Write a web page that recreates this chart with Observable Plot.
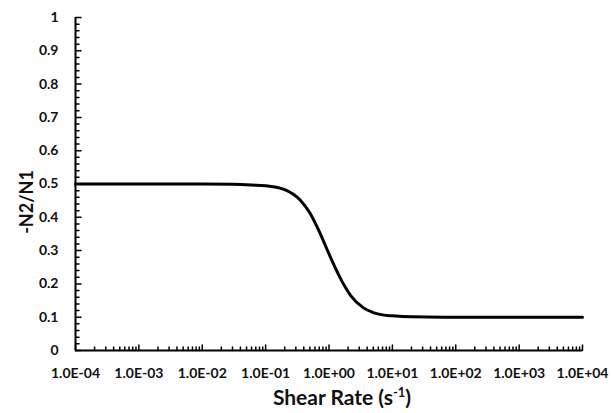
<!DOCTYPE html>
<html><head><meta charset="utf-8">
<script src="https://cdn.jsdelivr.net/npm/d3@7"></script>
<script src="https://cdn.jsdelivr.net/npm/@observablehq/plot@0.6"></script>
<style>body{margin:0;background:#fff} svg{display:block}</style>
</head><body><div id="chart"></div>
<script>
// Data
const shearRate = [1e-4, 1e-3, 1e-2, 0.03, 0.06, 0.1, 0.2, 0.35, 0.5, 0.7, 1.0, 1.5, 2.2, 3.5, 5, 7, 10, 20, 100, 1e3, 1e4];
const ratio     = [0.5, 0.5, 0.5, 0.499, 0.497, 0.495, 0.483, 0.452, 0.413, 0.358, 0.29, 0.218, 0.165, 0.128, 0.114, 0.107, 0.104, 0.101, 0.1, 0.1, 0.1];

const xTickValues = [1e-4, 1e-3, 1e-2, 1e-1, 1e0, 1e1, 1e2, 1e3, 1e4];
const xTickLabels = ["1.0E-04", "1.0E-03", "1.0E-02", "1.0E-01", "1.0E+00", "1.0E+01", "1.0E+02", "1.0E+03", "1.0E+04"];
const yTickValues = [0, 0.1, 0.2, 0.3, 0.4, 0.5, 0.6, 0.7, 0.8, 0.9, 1];
const yTickLabels = ["0", "0.1", "0.2", "0.3", "0.4", "0.5", "0.6", "0.7", "0.8", "0.9", "1"];
const xTitle = "Shear Rate (s";
const xTitleSup = "-1";
const xTitleEnd = ")";
const yTitle = "-N2/N1";

const data = shearRate.map((x, i) => ({x, y: ratio[i]}));
const minorX = [];
for (let d = -4; d < 4; d++) for (let k = 2; k <= 9; k++) minorX.push(k * Math.pow(10, d));
const minorY = d3.range(0, 51).map(i => i / 50).filter(v => Math.abs(v * 10 - Math.round(v * 10)) > 1e-6);

const tickShape = {draw(ctx, l) { ctx.moveTo(0, 0); ctx.lineTo(0, -l); }};
const font = "Lato, 'Open Sans', sans-serif";

const chart = Plot.plot({
  width: 611, height: 413,
  marginLeft: 75, marginRight: 29, marginTop: 17, marginBottom: 63,
  style: {fontFamily: font, background: "#fff", color: "#000"},
  x: {type: "log", domain: [1e-4, 1e4]},
  y: {domain: [0, 1]},
  marks: [
    Plot.axisX({ticks: xTickValues, tickSize: 0, tickPadding: 18, label: null,
      tickFormat: d => xTickLabels[xTickValues.indexOf(d)], fontSize: 14, fontWeight: "bold", fill: "#111"}),
    Plot.axisY({ticks: yTickValues, tickSize: 0, tickPadding: 17, label: null,
      tickFormat: d => yTickLabels[yTickValues.findIndex(v => Math.abs(v - d) < 1e-9)], fontSize: 14, fontWeight: "bold", fill: "#111"}),
    Plot.vector(minorX, {x: d => d, y: 0, rotate: 0, length: 3.5, anchor: "start", shape: tickShape, stroke: "#000", strokeWidth: 1.5}),
    Plot.vector(xTickValues, {x: d => d, y: 0, rotate: 0, length: 5.5, anchor: "start", shape: tickShape, stroke: "#000", strokeWidth: 1.5}),
    Plot.vector(minorY, {x: 1e-4, y: d => d, rotate: 90, length: 3.5, anchor: "start", shape: tickShape, stroke: "#000", strokeWidth: 1.5}),
    Plot.vector(yTickValues, {x: 1e-4, y: d => d, rotate: 90, length: 5.5, anchor: "start", shape: tickShape, stroke: "#000", strokeWidth: 1.5}),
    Plot.ruleY([0], {stroke: "#000", strokeWidth: 2}),
    Plot.ruleX([1e-4], {stroke: "#000", strokeWidth: 2}),
    Plot.line(data, {x: "x", y: "y", curve: "monotone-x", stroke: "#000", strokeWidth: 3})
  ]
});
document.getElementById("chart").append(chart);

const svg = d3.select(chart);
const xt = svg.append("text")
  .attr("x", 342).attr("y", 405).attr("text-anchor", "middle")
  .attr("font-family", font).attr("font-size", 21).attr("font-weight", "bold").attr("fill", "#111");
xt.append("tspan").text(xTitle);
xt.append("tspan").attr("font-size", 13).attr("dy", -8).text(xTitleSup);
xt.append("tspan").attr("dy", 8).text(xTitleEnd);
svg.append("text")
  .attr("transform", "translate(33,202) rotate(-90)").attr("text-anchor", "middle")
  .attr("font-family", font).attr("font-size", 18).attr("font-weight", "bold").attr("fill", "#111")
  .text(yTitle);
</script>
</body></html>
